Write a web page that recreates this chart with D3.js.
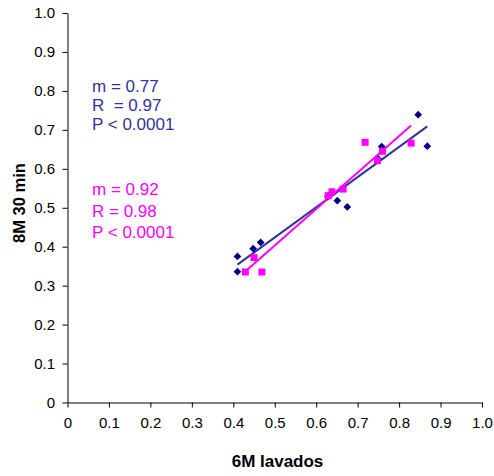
<!DOCTYPE html>
<html><head><meta charset="utf-8">
<script src="https://cdn.jsdelivr.net/npm/d3@7"></script>
<style>body{margin:0;background:#fff}svg{display:block}</style>
</head><body>
<script>
// Series A (navy diamonds): x = 6M lavados, y = 8M 30 min
const navyX = [0.410, 0.410, 0.448, 0.466, 0.628, 0.651, 0.675, 0.758, 0.846, 0.868, 0.750];
const navyY = [0.336, 0.375, 0.395, 0.411, 0.529, 0.518, 0.502, 0.657, 0.739, 0.658, 0.625];
// Series B (magenta squares)
const pinkX = [0.429, 0.450, 0.469, 0.629, 0.638, 0.665, 0.718, 0.748, 0.760, 0.829];
const pinkY = [0.335, 0.372, 0.335, 0.531, 0.541, 0.548, 0.668, 0.621, 0.645, 0.666];
// Regression lines (endpoints)
const navyFitX = [0.410, 0.868];
const navyFitY = [0.354, 0.709];
const pinkFitX = [0.426, 0.829];
const pinkFitY = [0.334, 0.711];
// Annotations
const navyStats = ["m = 0.77", "R  = 0.97", "P < 0.0001"];
const pinkStats = ["m = 0.92", "R = 0.98", "P < 0.0001"];
const xTicks = [0, 0.1, 0.2, 0.3, 0.4, 0.5, 0.6, 0.7, 0.8, 0.9, 1.0];
const yTicks = [0, 0.1, 0.2, 0.3, 0.4, 0.5, 0.6, 0.7, 0.8, 0.9, 1.0];
const xTitle = "6M lavados";
const yTitle = "8M 30 min";

const W = 494, H = 476;
const svg = d3.select("body").append("svg").attr("width", W).attr("height", H)
  .style("font-family", "'Liberation Sans', Arial, sans-serif");

const x = d3.scaleLinear().domain([0, 1]).range([67.5, 482]);
const y = d3.scaleLinear().domain([0, 1]).range([402.5, 13]);
const fmt = d => d === 0 ? "0" : d3.format(".1f")(d);

const xAxis = svg.append("g").attr("transform", "translate(0,402.5)")
  .call(d3.axisBottom(x).tickValues(xTicks).tickFormat(fmt).tickSize(5).tickSizeOuter(0).tickPadding(10));
const yAxis = svg.append("g").attr("transform", "translate(67.5,0)")
  .call(d3.axisLeft(y).tickValues(yTicks).tickFormat(fmt).tickSize(5).tickSizeOuter(0).tickPadding(7.5));
[xAxis, yAxis].forEach(g => {
  g.selectAll("path").attr("stroke", "#000").attr("stroke-width", 1);
  g.selectAll("line").attr("stroke", "#000").attr("stroke-width", 1);
  g.selectAll("text").attr("fill", "#000").style("font-size", "15px")
    .style("font-family", "'Liberation Sans', Arial, sans-serif");
});

svg.append("text").attr("x", 277.5).attr("y", 467).attr("text-anchor", "middle")
  .style("font-size", "17px").style("font-weight", "bold").text(xTitle);
svg.append("text").attr("transform", "translate(25,203) rotate(-90)").attr("text-anchor", "middle")
  .style("font-size", "16.5px").style("font-weight", "bold").text(yTitle);

// fit lines
svg.append("line").attr("x1", x(navyFitX[0])).attr("y1", y(navyFitY[0]))
  .attr("x2", x(navyFitX[1])).attr("y2", y(navyFitY[1]))
  .attr("stroke", "#333399").attr("stroke-width", 2);
svg.append("line").attr("x1", x(pinkFitX[0])).attr("y1", y(pinkFitY[0]))
  .attr("x2", x(pinkFitX[1])).attr("y2", y(pinkFitY[1]))
  .attr("stroke", "#FF00FF").attr("stroke-width", 2);

// navy diamonds
svg.append("g").selectAll("path").data(navyX.map((v, i) => [v, navyY[i]])).join("path")
  .attr("d", d3.symbol().type(d3.symbolSquare).size(30))
  .attr("transform", d => `translate(${x(d[0])},${y(d[1])}) rotate(45)`)
  .attr("fill", "#000080");
// magenta squares
svg.append("g").selectAll("rect").data(pinkX.map((v, i) => [v, pinkY[i]])).join("rect")
  .attr("x", d => x(d[0]) - 3.5).attr("y", d => y(d[1]) - 3.5)
  .attr("width", 7).attr("height", 7).attr("fill", "#FF00FF");

// annotations
svg.append("g").selectAll("text").data(navyStats).join("text")
  .attr("x", 92).attr("y", (d, i) => 91.5 + i * 19.3)
  .style("font-size", "17px").style("white-space", "pre").attr("xml:space", "preserve")
  .attr("fill", "#333399").text(d => d);
svg.append("g").selectAll("text").data(pinkStats).join("text")
  .attr("x", 92).attr("y", (d, i) => 195 + i * 21.5)
  .style("font-size", "17px").style("white-space", "pre")
  .attr("fill", "#FF00FF").text(d => d);
</script>
</body></html>
